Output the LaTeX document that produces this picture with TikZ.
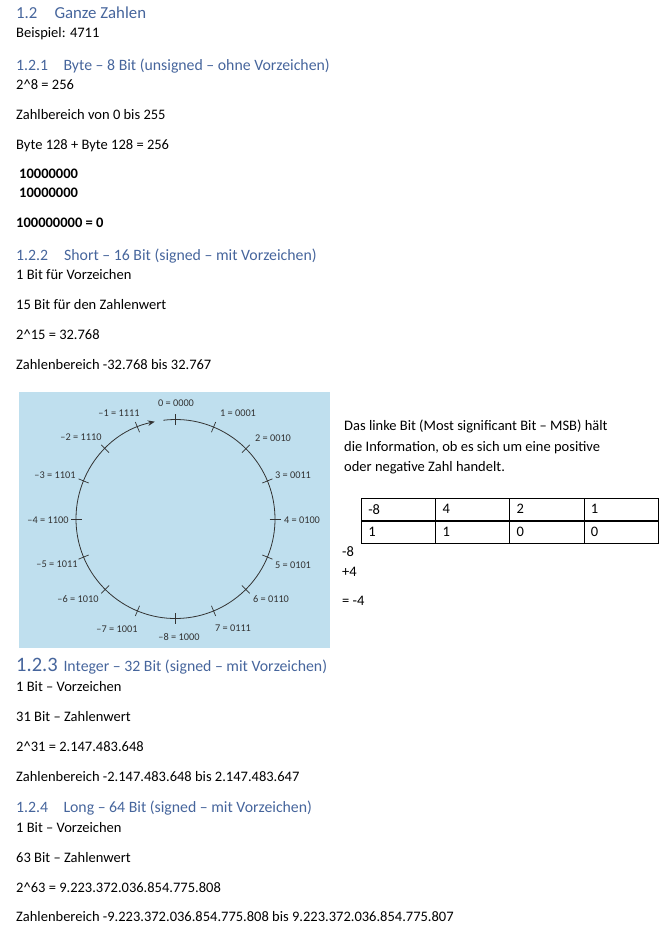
\documentclass[tikz,border=0pt]{standalone}
\usepackage{fontspec}
\setmainfont{Carlito}
\usetikzlibrary{positioning,arrows.meta}
\definecolor{headblue}{HTML}{46659C}
\definecolor{diabg}{HTML}{BFDFEE}
\definecolor{diagrey}{HTML}{333333}
\tikzset{
  body/.style={anchor=base west, inner sep=0pt, font=\fontsize{14.5}{17}\selectfont},
  head/.style={anchor=base west, inner sep=0pt, text=headblue, font=\fontsize{15.8}{19}\selectfont},
  lbl/.style={inner sep=0pt, text=diagrey, font=\fontsize{10.3}{12}\selectfont},
  tick/.style={draw=diagrey, line width=0.7pt},
  ring/.style={draw=diagrey, line width=0.8pt},
  cell/.style={draw, line width=0.6pt, anchor=north west, minimum height=22.3pt, text width=60.2pt, inner xsep=7pt, inner ysep=0pt, align=left, font=\fontsize{14.5}{17}\selectfont},
}

\begin{document}
\begin{tikzpicture}[x=1pt, y=-1pt]
\useasboundingbox (0,0) rectangle (668,935);

% headings
\node[head, font=\fontsize{16.8}{20}\selectfont] (h2n) at (16,18.3) {1.2};
\node[head, font=\fontsize{16.8}{20}\selectfont] (h2t) at (54.3,18.3) {Ganze Zahlen};
\node[head] (h21n) at (16,70) {1.2.1};
\node[head] (h21t) at (63.3,70) {Byte – 8 Bit (unsigned – ohne Vorzeichen)};
\node[head] (h22n) at (16,260.7) {1.2.2};
\node[head] (h22t) at (64,260.7) {Short – 16 Bit (signed – mit Vorzeichen)};
\node[head, font=\fontsize{20.5}{24}\selectfont] (h23n) at (16,671.7) {1.2.3};
\node[head] (h23t) at (63.3,671.7) {Integer – 32 Bit (signed – mit Vorzeichen)};
\node[head] (h24n) at (16,812.7) {1.2.4};
\node[head] (h24t) at (63.3,812.7) {Long – 64 Bit (signed – mit Vorzeichen)};

% body text
\foreach \n/\y/\txt in {
  b1/37.7/{Beispiel: 4711},
  b2/89.3/{2\textasciicircum 8 = 256},
  b3/119/{Zahlbereich von 0 bis 255},
  b4/149/{Byte 128 + Byte 128 = 256},
  b5/227.3/{\bfseries 100000000 = 0},
  s1/279.3/{1 Bit für Vorzeichen},
  s2/309.3/{15 Bit für den Zahlenwert},
  s3/339/{2\textasciicircum 15 = 32.768},
  s4/369/{Zahlenbereich -32.768 bis 32.767},
  i1/691.7/{1 Bit – Vorzeichen},
  i2/721.7/{31 Bit – Zahlenwert},
  i3/751.7/{2\textasciicircum 31 = 2.147.483.648},
  i4/781/{Zahlenbereich -2.147.483.648 bis 2.147.483.647},
  l1/832.7/{1 Bit – Vorzeichen},
  l2/862.7/{63 Bit – Zahlenwert},
  l3/892.3/{2\textasciicircum 63 = 9.223.372.036.854.775.808},
  l4/921.7/{Zahlenbereich -9.223.372.036.854.775.808 bis 9.223.372.036.854.775.807}}
  \node[body] (\n) at (16,\y) {\txt};
\node[body, font=\fontsize{14.5}{17}\selectfont\bfseries] (add1) at (19,178.3) {10000000};
\node[body, font=\fontsize{14.5}{17}\selectfont\bfseries] (add2) at (19,197.3) {10000000};

% number circle
\fill[diabg] (19,392) rectangle (330,648);
\begin{scope}[shift={(175.5,519)}]
  \foreach \k in {0,...,15} {
    \pgfmathsetmacro{\a}{90-22.5*\k}
    \coordinate (ti\k) at (\a:94pt);
    \coordinate (to\k) at (\a:105pt);
    \draw[tick] (ti\k) -- (to\k);
  }
  \draw[ring, -{Stealth[length=7pt,width=5.5pt]}] (97:99.5pt) arc[start angle=97, end angle=-258, radius=99.5pt];
\end{scope}
\foreach \n/\x/\y/\txt in {
  0/176/403/{0 = 0000}, 1/238/413/{1 = 0001}, 2/273/438/{2 = 0010}, 3/293/475/{3 = 0011},
  4/302/520/{4 = 0100}, 5/293/565/{5 = 0101}, 6/271/599/{6 = 0110}, 7/233/628/{7 = 0111},
  8/179/637/{–8 = 1000}, 9/117/629/{–7 = 1001}, 10/78/599/{–6 = 1010}, 11/57/564/{–5 = 1011},
  12/48/520/{–4 = 1100}, 13/55/475/{–3 = 1101}, 14/81/437/{–2 = 1110}, 15/119/413/{–1 = 1111}}
  \node[lbl] (v\n) at (\x,\y) {\txt};

% MSB text
\node[body] (m1) at (344,430) {Das linke Bit (Most significant Bit – MSB) hält};
\node[body] (m2) at (344,451) {die Information, ob es sich um eine positive};
\node[body] (m3) at (344,471) {oder negative Zahl handelt.};

% bit table
\foreach \hv/\bv [count=\i] in {-8/1, 4/1, 2/0, 1/0} {
  \node[cell] (t\i) at (361+74.2*\i-74.2,497.7) {\hv};
  \node[cell, below=0pt of t\i] (u\i) {\bv};
}
\node[body] (r1) at (342,556.7) {-8};
\node[body] (r2) at (342,576) {+4};
\node[body] (r3) at (342,605) {= -4};

\end{tikzpicture}
\end{document}
